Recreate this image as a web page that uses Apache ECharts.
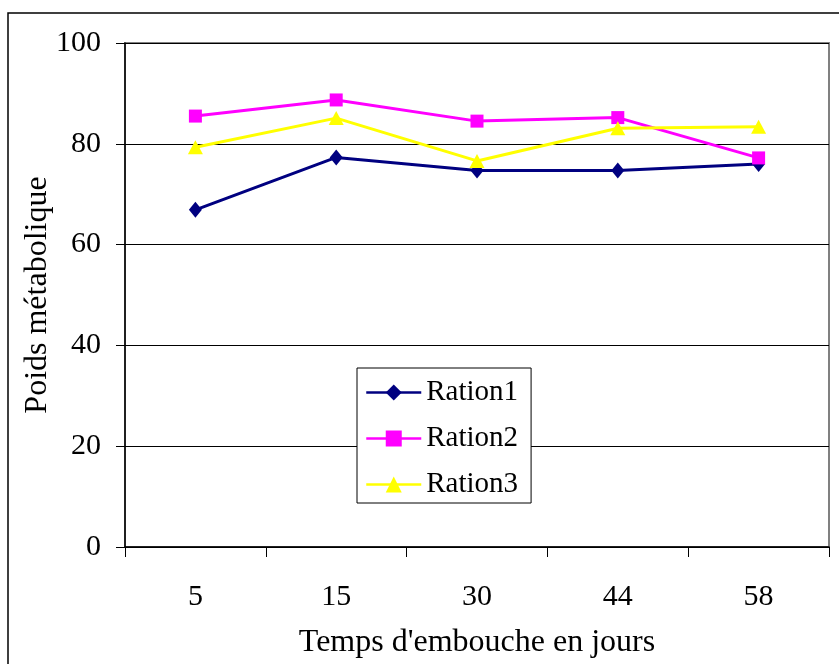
<!DOCTYPE html>
<html>
<head>
<meta charset="utf-8">
<script src="https://cdn.jsdelivr.net/npm/echarts@6/dist/echarts.min.js"></script>
<style>
html,body{margin:0;padding:0;background:#fff;}
#c{width:839px;height:664px;}
</style>
</head>
<body>
<div id="c"></div>
<script>
const categories = ['5', '15', '30', '44', '58'];
const ration1 = [66.9, 77.3, 74.7, 74.7, 76.0];
const ration2 = [85.5, 88.7, 84.5, 85.2, 77.2];
const ration3 = [79.3, 85.1, 76.6, 83.1, 83.4];
const yTicks = { min: 0, max: 100, interval: 20 };

const FONT = '"Liberation Serif", "Times New Roman", serif';
const chart = echarts.init(document.getElementById('c'), null, { renderer: 'canvas' });

chart.setOption({
  animation: false,
  backgroundColor: '#fff',
  textStyle: { fontFamily: FONT, color: '#000' },
  graphic: [{
    type: 'rect',
    shape: { x: 8, y: 13, width: 900, height: 700 },
    style: { fill: 'none', stroke: '#000', lineWidth: 1.5 },
    z: 100, silent: true
  }],
  grid: {
    left: 125, right: 10, top: 43, bottom: 116,
    show: true, borderColor: '#808080', borderWidth: 2, backgroundColor: '#fff'
  },
  legend: {
    orient: 'vertical',
    left: 357, top: 368,
    padding: [10, 13, 4, 8],
    itemGap: 17,
    itemWidth: 55,
    itemHeight: 20,
    backgroundColor: '#fff',
    borderColor: '#000',
    borderWidth: 1,
    lineStyle: { width: 2.5 },
    textStyle: { fontFamily: FONT, fontSize: 29, color: '#000', lineHeight: 29 },
    data: ['Ration1', 'Ration2', 'Ration3']
  },
  xAxis: {
    type: 'category',
    data: categories,
    boundaryGap: true,
    name: "Temps d'embouche en jours",
    nameLocation: 'middle',
    nameGap: 80,
    nameMoveOverlap: false,
    nameTextStyle: { fontFamily: FONT, fontSize: 32, color: '#000' },
    axisLine: { lineStyle: { color: '#000', width: 1.5 } },
    axisTick: { show: true, interval: 0, length: 10, lineStyle: { color: '#000' } },
    axisLabel: { interval: 0, fontFamily: FONT, fontSize: 30, color: '#000', margin: 35 },
    splitLine: { show: false }
  },
  yAxis: {
    type: 'value',
    min: yTicks.min, max: yTicks.max, interval: yTicks.interval,
    name: 'Poids métabolique',
    nameLocation: 'middle',
    nameGap: 71,
    nameMoveOverlap: false,
    nameTextStyle: { fontFamily: FONT, fontSize: 32, color: '#000' },
    axisLine: { show: true, lineStyle: { color: '#000', width: 1.5 } },
    axisTick: { show: true, length: 9, lineStyle: { color: '#000' } },
    axisLabel: { fontFamily: FONT, fontSize: 30, color: '#000', margin: 24 },
    splitLine: { show: true, lineStyle: { color: '#000', width: 1 } }
  },
  series: [
    {
      name: 'Ration1', type: 'line', data: ration1,
      symbol: 'diamond', symbolSize: [13, 16],
      lineStyle: { color: '#000080', width: 3 },
      itemStyle: { color: '#000080' }
    },
    {
      name: 'Ration2', type: 'line', data: ration2,
      symbol: 'rect', symbolSize: 13,
      lineStyle: { color: '#FF00FF', width: 3 },
      itemStyle: { color: '#FF00FF' }
    },
    {
      name: 'Ration3', type: 'line', data: ration3,
      symbol: 'triangle', symbolSize: [15, 14],
      lineStyle: { color: '#FFFF00', width: 3 },
      itemStyle: { color: '#FFFF00' }
    }
  ]
});
</script>
</body>
</html>
